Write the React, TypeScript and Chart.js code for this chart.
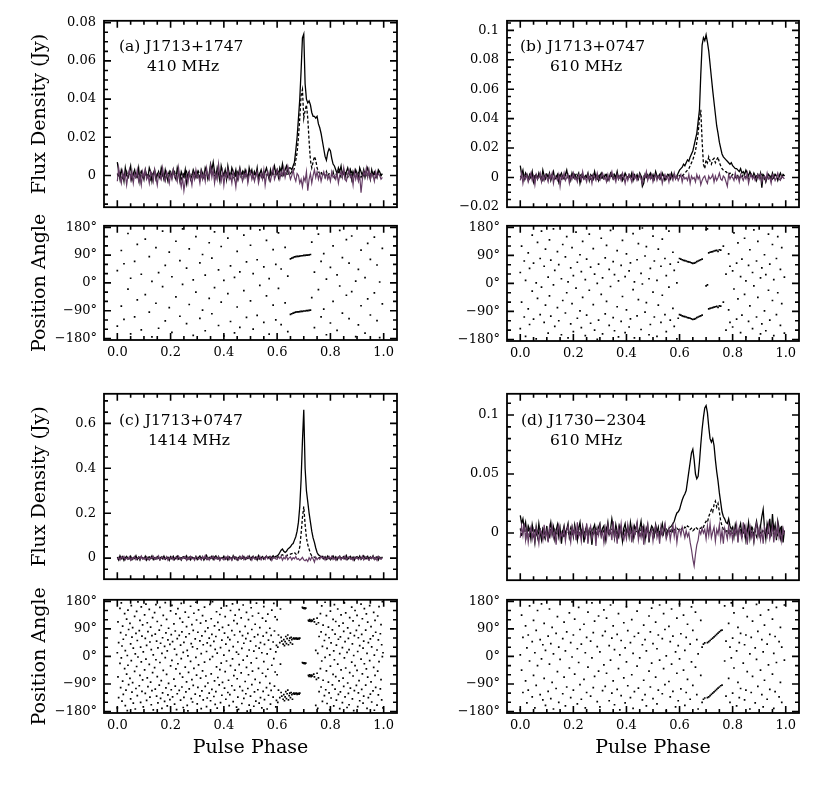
import { useEffect, useRef } from 'react';
import Chart from 'chart.js/auto';

const n = null;
type Bin = number | null;

// Profiles in mJy, 200 bins across the pulse period (phase 0 .. 0.995)
const aTotal = [
  7, 2, -2, 3, 1, -3, 4, 0, -1, 2, 5, -2, 1, 3, -1, 0, 4, -3, 2, 1,
  -2, 3, 0, -1, 4, 2, -3, 1, 3, -2, 0, 2, -1, 4, 1, -2, 3, 0, -3, 1,
  2, -1, 3, 0, -2, 4, 1, -3, 2, 0, -1, 3, -4, 1, 2, -2, 0, 3, 1, -1,
  2, 0, -2, 3, 1, -1, 4, 2, -2, 1, 6, 3, 7, 2, -1, 4, 1, -3, 5, 2,
  0, 3, -2, 5, 1, -1, 4, 2, 0, 3, -2, 1, 4, 0, 2, -1, 3, 1, -2, 4,
  1, 3, -1, 2, 0, 4, -2, 1, 3, 0, -1, 2, 4, 1, -2, 3, 0, 2, 5, 1,
  3, -1, 4, 2, 6, 1, 3, 5, 2, 4, 4, 3, 5, 7, 13, 20, 30, 40, 55, 72,
  74, 48, 40, 38, 39, 37, 33, 31, 31, 30, 31, 27, 25, 22, 18, 14, 10, 8, 12, 14,
  13, 9, 6, 5, 3, 1, 4, 2, 5, 0, 3, -1, 2, 4, 1, 3, -2, 2, 0, 3,
  1, -2, 4, 2, 0, 3, -1, 2, 4, 1, -2, 3, 0, 2, 1, -1, 3, 2, 0, 1,
];
const aLinear = [
  1, -1, 2, 0, -2, 1, 0, 2, -1, 1, 0, -2, 1, 2, 0, -1, 1, 0, 2, -1,
  0, 2, -1, 1, 0, -2, 1, 0, 2, -1, 1, 0, -1, 2, 0, 1, -2, 1, 0, 2,
  -1, 0, 1, 2, -1, 0, 2, 1, -2, 0, 1, -1, 2, 0, 1, -1, 0, 2, 1, 0,
  -1, 2, 0, 1, -2, 1, 0, 2, -1, 0, 3, 1, 2, 0, -1, 1, 2, 0, -1, 1,
  0, 2, 1, -1, 0, 2, 1, 0, -2, 1, 2, 0, 1, -1, 0, 2, 1, -1, 0, 1,
  2, 0, -1, 1, 0, 2, -1, 1, 0, -2, 1, 2, 0, 1, -1, 0, 2, 1, 0, 1,
  0, 2, 1, -1, 1, 0, 2, 1, 0, 2, 1, 2, 2, 4, 8, 12, 20, 30, 42, 45,
  30, 34, 37, 30, 18, 8, 4, 7, 10, 8, 4, 2, 1, 2, 0, 1, -1, 2, 0, 1,
  1, 0, 2, -1, 1, 0, 2, 1, -1, 0, 1, 2, 0, -1, 1, 0, 2, 1, 0, -1,
  1, 2, 0, -1, 1, 0, 2, 1, -1, 0, 1, 2, 0, 1, -1, 0, 2, 1, 0, 1,
];
const aCircular = [
  -3, 4, -1, -4, 2, -2, 1, -5, 0, 3, -2, 2, -4, 1, -1, 3, -3, 0, -5, 2,
  -1, 3, -2, 0, -4, 2, 1, -3, 3, -1, -5, 1, 0, -2, 4, -1, -3, 2, 0, -4,
  1, -2, 3, -1, 0, -3, 4, -2, -6, -1, -8, -3, 0, -4, 2, -1, -5, 1, -2, 3,
  -1, 0, -4, 2, -2, 1, -3, 4, 0, -2, 5, -1, 3, -4, 1, -2, 6, 0, -3, 2,
  -5, 1, -1, 3, -2, 0, -4, 2, -1, -6, 1, -2, 3, 0, -3, 1, -1, 2, -4, 0,
  2, -2, 1, -3, 0, 2, -4, -1, 1, -2, 3, -5, 0, 2, -1, -3, 1, 4, -2, 0,
  3, 1, -2, 2, 0, 4, -1, 2, 5, 1, -2, 0, 3, -1, -3, 1, 0, -4, -2, -6,
  -1, -3, 2, -8, -2, 1, -4, 0, 3, -1, 2, -2, 1, -3, 0, 2, -1, 1, -2, 0,
  -3, 2, -1, 0, -2, 1, -4, 0, 2, -1, 4, -2, -3, 1, 3, -1, 0, -5, 2, -2,
  1, -3, 0, -9, -2, 2, 0, 4, -1, 3, -2, 1, 0, -3, 2, -1, 1, 0, -2, -1,
];
// Position angles in degrees, one per bin (null = no measurement)
const aAngle: Bin[] = [
  40, n, n, -75, n, 62, n, n, -20, n, 15, n, n, 70, n, -55, n, n, 28, n,
  n, -38, n, n, 85, n, 5, n, n, -66, n, 33, n, n, -12, n, 57, n, n, -80,
  n, 20, n, n, -45, n, n, 72, n, -5, n, n, 48, n, -70, n, n, 10, n, -30,
  n, n, 65, n, -88, n, 25, n, n, -50, n, 80, n, -15, n, n, 42, n, -62, n,
  8, n, n, -35, n, 55, n, n, 18, n, -78, n, 36, n, n, -25, n, 68, n, n,
  -58, n, 30, n, n, 75, n, -8, n, n, 52, n, -42, n, 14, n, n, -72, n, 60,
  n, -18, n, 45, n, n, -65, n, 22, n, 78, 80, 82, 84, 85, 86, 86, 87, 88, 88,
  89, 89, 90, 90, 91, 92, -48, n, 35, n, n, -22, n, 70, n, -85, n, 12, n, n,
  50, n, -60, n, n, 26, n, -10, n, 82, n, n, -40, n, 64, n, -28, n, n, 6,
  n, 44, n, -74, n, n, 17, n, -52, n, 76, n, n, -32, n, 58, n, 3, n, -68,
];

const bTotal = [
  8, 2, 5, -1, 3, 1, -2, 2, 0, 4, -3, 1, 2, -1, 3, 0, -2, 5, 1, -1,
  2, 0, 3, -2, 1, 4, -1, 0, 2, -3, 1, 3, 0, -1, 2, 5, 0, 1, -2, 3,
  0, 2, -1, 1, 3, -4, 0, 2, -1, 1, 0, 3, -2, 2, 1, -1, 4, 0, 2, -2,
  1, 3, 0, -1, 2, 1, -2, 0, 3, 1, -1, 2, 0, 4, -1, 1, 2, -2, 0, 3,
  1, -1, 2, 0, 3, -2, 1, 0, 2, -1, 3, 1, -6, -4, 2, 0, 1, 1, 3, 0,
  2, -1, 4, 1, 0, 2, -1, 3, 1, -2, 0, 2, 1, -1, 3, 0, 2, -1, 1, 3,
  5, 6, 7, 9, 8, 10, 12, 11, 14, 16, 18, 22, 26, 30, 38, 46, 70, 90, 95, 93,
  97, 92, 86, 77, 68, 59, 51, 43, 35, 30, 24, 20, 16, 14, 13, 12, 11, 10, 9, 10,
  8, 7, 6, 6, 5, 4, 6, 3, 4, 2, 5, 3, 1, 4, 2, 0, 3, 1, -2, 2,
  0, 3, -7, 2, 1, -3, 0, 2, 1, -1, 3, 0, 2, 1, -2, 1, 3, 0, 2, 1,
];
const bLinear = [
  1, 0, 2, -1, 1, 2, 0, -1, 1, 0, 2, 1, -1, 0, 2, 1, 0, -2, 1, 0,
  2, -1, 0, 1, 2, 0, -1, 1, 0, 2, 1, -1, 0, 1, 2, 0, 1, -1, 0, 2,
  0, 1, 2, -1, 0, 1, 2, 0, -1, 1, 2, 0, 1, -1, 0, 2, 1, 0, -1, 1,
  2, 0, -1, 1, 0, 2, 1, -1, 0, 1, 2, 0, -1, 1, 2, 0, 1, 0, -1, 2,
  1, 0, 2, -1, 1, 0, 2, 1, 0, -1, 1, 2, -2, -1, 0, 1, 2, 0, 1, 0,
  -1, 1, 2, 0, 1, -1, 0, 2, 1, 0, -1, 1, 2, 0, 1, 0, 2, 1, 0, 2,
  1, 2, 1, 2, 3, 4, 5, 6, 8, 10, 12, 15, 18, 24, 30, 40, 46, 25, 9, 6,
  12, 10, 14, 11, 9, 12, 13, 10, 12, 14, 10, 8, 6, 5, 4, 4, 3, 2, 3, 1,
  2, 1, 0, 2, 1, -1, 1, 0, 2, 1, 0, 1, -1, 0, 2, 1, 0, -1, 1, 0,
  1, 0, 2, 1, -1, 0, 1, 2, 0, 1, -1, 0, 2, 1, 0, 1, -1, 0, 2, 1,
];
const bCircular = [
  -2, 3, -4, 1, -1, 2, -3, 0, 3, -2, 1, -5, 2, -1, 0, 3, -3, 1, -2, 2,
  0, -3, 2, -1, 3, -4, 1, 0, -2, 2, -6, 1, -1, 3, -2, 0, 2, -4, 1, -1,
  3, -1, 0, -3, 2, 1, -2, 4, -1, 0, -3, 2, -1, 1, -4, 2, 0, -2, 3, -1,
  -2, 1, 3, -1, 0, -3, 2, -2, 1, 4, -1, 0, -3, 2, -1, 1, -2, 3, 0, -4,
  1, -2, 2, 0, -3, 3, -1, 1, -2, 0, 2, -1, -4, 1, 0, 4, -2, 1, -1, 2,
  -3, 0, 2, -2, 1, -1, 3, -4, 0, 2, -1, 1, -3, 2, 0, -2, 3, -1, 1, -2,
  0, 2, -3, 1, -1, 0, -2, 2, -4, 1, -1, 0, -3, 2, -1, 1, -5, -2, 0, 1,
  -2, -4, 1, -1, 0, 2, -3, 1, -2, 0, 3, -1, -2, 1, 0, -3, -6, 2, -1, 1,
  0, -2, 3, -1, 1, -3, 2, 0, -2, 1, -1, 3, -4, 0, 2, -1, 1, -2, 0, 2,
  -1, 2, -3, 0, 1, -2, 3, -1, 0, -4, 2, 1, -2, 0, 3, -1, -2, 1, 0, -1,
];
const bAngle: Bin[] = [
  35, -60, n, 72, 10, n, -82, 48, n, -25, 65, n, 2, -48, n, 80, -12, n, 55, -70,
  n, 20, -40, 75, n, -5, 42, n, -78, 60, n, 15, -55, n, 85, -30, 5, n, 50, -65,
  25, n, -15, 68, n, -88, 38, -45, n, 12, 78, n, -22, 52, n, -68, 30, n, 0, 62,
  n, -35, 18, n, 82, -58, n, 45, -10, n, 70, 28, n, -75, 8, n, 58, -42, n, 22,
  -85, n, 40, 66, n, -20, 5, n, 76, -52, n, 32, -2, n, 88, -62, n, 15, 48, n,
  -28, 72, n, 10, -70, n, 55, -38, n, 80, 25, n, -12, 62, n, -80, 42, n, 2, 68,
  80, 78, 76, 74, 73, 72, 70, 69, 68, 66, 64, 65, 67, 70, 72, 74, 76, 78, n, n,
  -8, -5, -82, -80, -79, -78, -76, -75, -74, -77, -72, -73, n, -60, n, 30, n, -85, 55, n,
  40, -18, n, 65, -50, n, 22, 78, n, -35, 8, n, 58, -72, n, 35, -8, n, 72, -45,
  n, 18, 50, n, -88, 28, n, -22, 62, n, -55, 12, n, 80, -30, n, 45, -65, n, 20,
];

const cTotal = [
  5, -8, 10, -3, 6, -10, 2, 8, -5, 0, 9, -7, 3, -2, 11, -6, 4, -9, 7, -1,
  -4, 8, -9, 3, 6, -2, 10, -7, 1, -5, 7, 2, -8, 5, -3, 9, -6, 0, 4, -10,
  6, -3, 8, -7, 2, 9, -5, 1, -9, 4, 7, -2, 10, -6, 3, -8, 5, 0, -4, 8,
  -7, 2, 9, -4, 6, -9, 1, 12, -5, 3, -2, 8, -6, 4, 10, -3, 7, -8, 2, -1,
  9, -5, 3, -8, 6, 1, -7, 10, -3, 5, -9, 2, 8, -4, 0, 7, -6, 3, -2, 9,
  -6, 4, 8, -2, 5, -8, 11, -4, 2, 7, -5, 3, 9, -1, 6, -7, 4, 10, 2, 8,
  10, 15, 25, 35, 40, 30, 25, 30, 40, 45, 50, 60, 65, 80, 95, 120, 160, 230, 350, 520,
  660, 400, 300, 250, 200, 160, 120, 90, 70, 45, 25, 15, 10, 5, 8, -3, 6, -5, 9, 2,
  -7, 4, 10, -2, 6, -8, 3, 9, -5, 1, 7, -4, 11, -6, 2, 8, -3, 5, -9, 4,
  7, -2, 9, -6, 3, 10, -4, 1, 8, -7, 5, -1, 10, -5, 2, 6, -8, 4, -3, 6,
];
const cLinear = [
  3, -4, 2, 0, -2, 4, -1, 1, 3, -3, 0, 2, -4, 1, 3, -1, 0, 4, -2, 1,
  -1, 2, 4, -3, 0, 1, -2, 3, -4, 2, 1, -1, 0, 3, -2, 4, -3, 1, 2, 0,
  2, -2, 0, 3, -1, 1, 4, -3, 2, 0, -1, 3, -2, 1, 4, -4, 0, 2, -1, 3,
  0, 3, -2, 1, 4, -1, 2, -3, 0, 3, 1, -2, 4, 0, -1, 2, -3, 3, 1, -2,
  4, -1, 1, 3, -3, 2, 0, -2, 3, 1, -4, 2, 0, 3, -1, 1, 4, -2, 0, 2,
  -2, 1, 3, 0, 2, -3, 4, -1, 1, 2, -2, 3, 0, -1, 4, 2, -3, 1, 3, 0,
  3, 5, 8, 12, 15, 10, 8, 10, 14, 16, 18, 20, 22, 25, 18, 15, 25, 50, 110, 180,
  230, 150, 90, 60, 40, 20, 10, 6, 4, 2, 3, -1, 2, 4, 0, -2, 3, 1, -3, 2,
  1, -3, 2, 4, -1, 0, 3, -2, 1, 2, -4, 3, 0, -1, 2, 4, -2, 1, 3, -3,
  2, 0, -2, 3, 1, -1, 4, -3, 0, 2, 1, -2, 3, 0, -4, 2, 1, -1, 3, 0,
];
const cCircular = [
  -6, 3, -9, 5, -2, 8, -7, 1, -4, 6, -10, 2, -3, 7, -8, 0, 4, -6, 9, -5,
  2, -7, 6, -3, -9, 4, -1, 8, -6, 3, -4, 10, -8, 1, 5, -5, -2, 7, -9, 3,
  -3, 6, -8, 2, 5, -6, 9, -2, -7, 4, -1, 7, -9, 3, -5, 8, -4, 1, -10, 6,
  4, -5, 1, -8, 7, -3, 12, -6, 2, -9, 5, -1, 8, -7, 3, -4, 6, -11, 1, -2,
  -8, 5, -3, 9, -6, 2, -10, 4, 7, -5, 1, -8, 6, -2, 10, -7, 3, -4, 8, -1,
  3, -9, 7, -1, -6, 5, -3, 8, -8, 2, 4, -6, 9, -3, -1, 7, -10, 2, 5, -4,
  -5, 6, -2, 8, -9, 3, -4, 10, -7, 1, 5, -8, 2, -3, 7, -6, -2, -10, -4, 3,
  -8, -12, -6, -15, 2, -9, 5, -3, -18, 4, -7, 1, -5, 8, -2, 6, -9, 3, -4, 7,
  -3, 8, -6, 2, -9, 5, -1, 7, -8, 3, -4, 10, -7, 1, 6, -5, 2, -10, 4, -2,
  5, -7, 2, -4, 9, -8, 1, 6, -3, -9, 4, -2, 7, -6, 3, -10, 8, -1, -5, 2,
];
// Panel (c) position angles have 400 bins
const cAngle: Bin[] = [
  12, -67, 45, n, -23, 78, -5, 34, -81, 56, n, -40, 19, 70, -58, 3, -29, 88, n, -72,
  41, -14, 63, -86, 27, n, -49, 8, 75, -33, 52, -2, n, 84, -62, 30, -18, 66, -77, 15,
  n, -44, 59, -9, 36, -70, 81, n, -26, 47, -84, 22, 68, -53, 5, n, -37, 73, -11, 50,
  -66, 28, n, 86, -20, 43, -79, 10, 61, -46, n, 33, -4, 77, -59, 18, 54, -88, n, 39,
  -31, 71, -13, 48, n, -74, 24, 83, -41, 6, 58, -24, n, 69, -56, 37, -7, 80, -68, 13,
  46, n, -35, 64, -83, 20, 2, -52, 74, n, -16, 42, -76, 31, 85, -39, n, 57, -3, -61,
  25, 79, -28, n, 51, -71, 9, 67, -47, 38, n, -19, 82, -64, 16, 44, -87, n, 60, -10,
  35, -57, 72, -1, n, 49, -80, 23, 65, -34, 11, -69, n, 87, -43, 29, -22, 53, -85, n,
  4, 76, -50, 40, -15, n, 62, -78, 19, 55, -30, n, 84, -8, 32, -63, 70, -45, n, 14,
  -73, 47, 7, -27, 81, n, -54, 26, 68, -12, 43, n, -82, 58, -36, 1, 75, -60, 21, n,
  50, -21, 88, -48, n, 17, 64, -75, 34, -6, n, 71, -39, 27, -86, 45, n, 12, -55, 66,
  -17, 39, n, -65, 78, 8, -42, 53, n, -88, 24, 69, -29, n, 47, -7, 83, -51, 15, 36,
  -60, 30, 70, n, 45, -25, 62, 50, n, 40, 55, 35, 48, 65, 42, 58, 70, 38, 52, 60,
  45, 62, 55, 40, 58, 60, 57, 59, 58, 60, 56, 58, 59, 57, 60, n, n, n, -20, -22,
  -23, -21, -24, -22, n, n, n, -62, -65, -60, -63, -66, -61, -64, n, -58, -67, n, 20, -75,
  -55, 10, -70, 65, n, -40, 80, -15, 33, -78, n, 52, -3, 71, -47, 26, n, -84, 61, 5,
  -32, 44, n, 87, -59, 18, -11, 73, -66, 37, n, -25, 56, -80, 9, 64, -44, n, 29, -71,
  82, -5, 48, -38, n, 13, -87, 59, 22, -53, 76, n, -19, 41, -64, 3, 68, -30, n, 85,
  -46, 16, 61, -79, 35, n, -9, 72, -57, 27, 50, -24, n, 86, -41, 10, -68, 45, n, -14,
  57, -83, 31, n, 67, -36, 4, -62, 79, n, 21, -48, 54, -17, n, 74, -76, 38, -1, 12,
];

const dTotal = [
  15, 8, 12, 4, 9, -2, 6, 3, -5, 7, 1, -8, 5, -3, 8, 0, -6, 4, 2, -4,
  6, -7, 3, 9, -1, 5, -5, 2, 7, -3, 4, -9, 1, 6, -2, 3, 8, -4, 0, 5,
  -3, 7, 1, -6, 4, 9, -2, 5, -8, 2, 6, -5, 3, 0, -10, 4, 7, -3, 1, 5,
  8, -2, 4, 6, -6, 2, 9, -1, 3, 12, 5, -4, 7, 1, -3, 6, 2, -7, 4, 8,
  0, 5, -3, 9, 2, -5, 6, 3, 8, -2, 4, 10, -1, 5, -6, 3, 7, -8, 2, 6,
  4, -2, 7, 1, 5, -4, 3, 8, 0, 6, -3, 2, 4, 5, 6, 8, 10, 14, 17, 18,
  20, 24, 28, 31, 33, 36, 44, 52, 60, 68, 71, 62, 50, 46, 48, 60, 75, 88, 98, 106,
  108, 102, 90, 80, 77, 80, 74, 62, 52, 44, 34, 26, 18, 14, 12, 9, 8, 12, 6, 3,
  5, -3, 7, 2, -5, 4, 8, -2, 3, 6, -6, 1, 9, -4, 5, 2, -7, 4, 10, 3,
  -2, 6, 14, 20, 4, -5, 8, 3, 12, -3, 16, 2, 7, -6, 10, 4, -4, 6, -8, 2,
];
const dLinear = [
  4, -3, 2, 5, -1, 0, 3, -4, 1, 2, -2, 4, 0, -3, 1, 3, -1, 2, -4, 0,
  2, 0, -3, 4, 1, -2, 3, 0, -1, 5, -3, 1, 2, -4, 0, 3, 1, -2, 4, -1,
  0, 3, -2, 1, 4, -3, 2, 0, -1, 3, 1, -4, 2, 0, 3, -2, 1, 4, -1, 0,
  3, -1, 0, 2, -3, 4, 1, -2, 0, 3, 2, -1, 4, -3, 1, 0, 2, -4, 3, 1,
  -2, 1, 3, 0, -1, 4, -3, 2, 1, 0, -2, 3, 1, -4, 2, 0, 3, -1, 1, 4,
  0, -2, 3, 1, -1, 2, 4, -3, 0, 1, 3, -1, 2, 0, 4, 1, 3, 2, 4, 3,
  2, 3, 4, 3, 5, 4, 6, 5, 3, 4, 2, 3, 5, 4, 3, 4, 4, 6, 5, 8,
  10, 9, 14, 17, 20, 18, 24, 27, 22, 25, 18, 10, 6, 3, 2, 1, 3, 0, 2, 1,
  -1, 2, 0, 3, -2, 1, 4, -3, 0, 2, -1, 3, 1, -2, 0, 4, -1, 2, -3, 1,
  2, 0, -1, 3, 1, -2, 4, 0, -3, 2, 1, -1, 3, 0, -2, 1, 4, -1, 0, 2,
];
const dCircular = [
  -4, 6, -2, 8, -6, 3, -8, 1, 5, -5, 2, -7, 4, -1, -9, 3, 0, -6, 7, -3,
  2, -8, 5, -2, 6, -4, 1, -10, 3, 7, -5, 0, -3, 4, -7, 2, 6, -1, -8, 5,
  -2, 4, -6, 9, -3, 1, -7, 5, -1, -4, 8, -9, 2, 6, -5, 0, 3, -11, 4, -2,
  6, -3, 1, -8, 4, -5, 7, -1, 3, -6, 10, -4, 2, -9, 5, -2, 8, -3, -6, 1,
  -5, 7, -1, 3, -8, 5, -3, 2, 9, -6, 1, -4, 6, -10, 4, -2, 7, -5, 0, 3,
  -7, 2, 6, -4, 1, -9, 5, -2, 3, 8, -5, -1, 4, -6, 2, 7, -3, 5, -8, 1,
  3, -2, 5, 1, -4, 2, -3, 0, -8, -14, -22, -28, -18, -10, -6, 2, -1, 4, 0, 3,
  -5, 6, -2, 8, -4, 1, 5, -7, 3, -1, 7, -6, 2, -9, 4, 0, -5, 6, -3, 2,
  -6, 3, -1, 7, -8, 4, 0, -5, 9, -2, 5, -10, 2, 6, -4, 1, -7, 3, 8, -3,
  4, -6, 2, -9, 5, 1, -3, 7, -5, 0, 6, -8, 3, -2, 8, -4, 1, -7, 4, -1,
];
const dAngle: Bin[] = [
  5, -45, 62, n, -80, 28, 70, -15, n, 48, -62, 12, 85, -30, n, 55, -8, 38, -72, 20,
  n, 66, -25, 42, -85, 8, n, 75, -50, 30, -10, n, 58, -68, 18, 80, n, -38, 45, -2,
  70, -58, n, 25, -20, 88, 40, n, -75, 12, 62, -35, n, 50, -5, 78, -65, n, 32, -48,
  15, n, 68, -28, 82, -55, n, 35, -12, 60, -80, 22, n, 72, -40, 5, 52, n, -70, 28,
  -18, 84, n, 45, -60, 10, 65, n, -32, 76, -5, n, 38, -78, 55, 18, n, -48, 80, -22,
  42, n, -68, 25, 70, -12, n, 58, -40, 88, 2, n, -82, 48, -25, 66, n, 15, -55, 35,
  -8, 74, n, -45, 20, 62, -75, n, 40, -18, 85, n, -35, 55, 8, n, -62, 30, 40, 44,
  n, 45, 48, 52, 56, 60, 64, 68, 72, 76, 80, 84, 86, n, -15, 50, n, -72, 30, -5,
  60, -38, n, 18, -85, 45, 75, n, -22, 38, 70, -50, n, 8, 62, -65, n, 28, -10, 82,
  n, -45, 55, 15, -78, n, 40, -28, 72, n, -58, 10, 65, -20, n, 48, -85, 30, n, -12,
];

const PURPLE = '#643c64';
const FONT = "'DejaVu Serif', serif";

Chart.defaults.font.family = FONT;
Chart.defaults.font.size = 13;
Chart.defaults.color = '#000';

const toFlux = (mJy: number[]) => mJy.map((v, i) => ({ x: i / mJy.length, y: v / 1000 }));

// every angle is shown twice, 180 degrees apart
const toAngle = (pa: Bin[]) => {
  const pts: { x: number; y: number }[] = [];
  pa.forEach((v, i) => {
    if (v === null) return;
    const x = i / pa.length;
    pts.push({ x, y: v });
    pts.push({ x, y: v >= 0 ? v - 180 : v + 180 });
  });
  return pts;
};

const fluxLabel = (v: number | string) => String(Number(Number(v).toFixed(4))).replace('-', '\u2212');
const phaseLabel = (v: number | string) => Number(v).toFixed(1);
const angleLabel = (v: number | string) => String(v).replace('-', '\u2212') + '\u00b0';

interface Note { text: string; dx: number; dy: number }
interface FrameOpts { xMinor: number; xMajor: number; yMinor: number; yMajor: number; notes?: Note[] }

const framePlugin = {
  id: 'frame',
  afterDatasetsDraw(chart: Chart, _args: unknown, opts: FrameOpts) {
    const { ctx, chartArea } = chart;
    const { left, right, top, bottom } = chartArea;
    const xs = chart.scales.x;
    const ys = chart.scales.y;
    const marks = (min: number, max: number, minor: number, major: number, fn: (v: number, len: number) => void) => {
      for (let k = Math.ceil(min / minor - 1e-6); k * minor <= max + 1e-9; k++) {
        const v = k * minor;
        const r = v / major;
        fn(v, Math.abs(r - Math.round(r)) < 1e-6 ? 7 : 4);
      }
    };
    ctx.save();
    ctx.strokeStyle = '#000';
    ctx.lineWidth = 1.6;
    ctx.beginPath();
    marks(xs.min, xs.max, opts.xMinor, opts.xMajor, (v, len) => {
      const px = xs.getPixelForValue(v);
      if (px <= left + 1 || px >= right - 1) return;
      ctx.moveTo(px, bottom);
      ctx.lineTo(px, bottom - len);
      ctx.moveTo(px, top);
      ctx.lineTo(px, top + len);
    });
    marks(ys.min, ys.max, opts.yMinor, opts.yMajor, (v, len) => {
      const py = ys.getPixelForValue(v);
      if (py <= top + 1 || py >= bottom - 1) return;
      ctx.moveTo(left, py);
      ctx.lineTo(left + len, py);
      ctx.moveTo(right, py);
      ctx.lineTo(right - len, py);
    });
    ctx.stroke();
    ctx.lineWidth = 1.8;
    ctx.strokeRect(left, top, right - left, bottom - top);
    ctx.fillStyle = '#000';
    ctx.font = `15.5px ${FONT}`;
    ctx.textBaseline = 'middle';
    (opts.notes || []).forEach((note) => ctx.fillText(note.text, left + note.dx, top + note.dy));
    ctx.restore();
  },
};

interface Spec {
  key: string;
  x: number;
  y: number;
  w: number;
  h: number;
  config: any;
}

const X_MIN = -0.05;
const X_MAX = 1.05;
const TITLE_FONT = { size: 19 };

function fluxSpec(key: string, boxL: number, boxR: number, boxT: number, boxB: number, axisW: number,
  total: number[], linear: number[], circular: number[], yMin: number, yMax: number,
  yMajor: number, yMinor: number, notes: Note[], withTitle: boolean): Spec {
  return {
    key,
    x: boxL - axisW,
    y: boxT - 12,
    w: boxR - boxL + axisW + 4,
    h: boxB - boxT + 24,
    config: {
      type: 'line',
      data: {
        datasets: [
          { data: toFlux(circular), borderColor: PURPLE, borderWidth: 1.2 },
          { data: toFlux(total), borderColor: '#000', borderWidth: 1.3 },
          { data: toFlux(linear), borderColor: '#000', borderWidth: 1.3, borderDash: [3, 2] },
        ],
      },
      options: {
        animation: false,
        responsive: false,
        layout: { padding: { top: 12, bottom: 12, left: 0, right: 4 } },
        elements: { point: { radius: 0 }, line: { tension: 0 } },
        plugins: {
          legend: { display: false },
          tooltip: { enabled: false },
          frame: { xMinor: 0.05, xMajor: 0.2, yMinor, yMajor, notes },
        },
        scales: {
          x: { type: 'linear', min: X_MIN, max: X_MAX, display: false },
          y: {
            type: 'linear',
            min: yMin,
            max: yMax,
            afterFit: (s: any) => { s.width = axisW; },
            grid: { display: false, drawTicks: false },
            border: { display: false },
            ticks: { stepSize: yMajor, includeBounds: false, padding: 8, callback: fluxLabel },
            title: {
              display: withTitle,
              text: 'Flux Density (Jy)',
              font: TITLE_FONT,
              padding: { top: 29, bottom: 0 },
            },
          },
        },
      },
      plugins: [framePlugin],
    },
  };
}

function angleSpec(key: string, boxL: number, boxR: number, boxT: number, boxB: number, axisW: number,
  angles: Bin[], axisH: number, withYTitle: boolean, withXTitle: boolean): Spec {
  return {
    key,
    x: boxL - axisW,
    y: boxT - 12,
    w: boxR - boxL + axisW + 4,
    h: boxB - boxT + 12 + axisH,
    config: {
      type: 'scatter',
      data: {
        datasets: [
          { data: toAngle(angles), pointStyle: 'rect', pointRadius: 1.2, backgroundColor: '#000', borderWidth: 0 },
        ],
      },
      options: {
        animation: false,
        responsive: false,
        layout: { padding: { top: 12, bottom: 0, left: 0, right: 4 } },
        plugins: {
          legend: { display: false },
          tooltip: { enabled: false },
          frame: { xMinor: 0.05, xMajor: 0.2, yMinor: 30, yMajor: 90 },
        },
        scales: {
          x: {
            type: 'linear',
            min: X_MIN,
            max: X_MAX,
            afterFit: (s: any) => { s.height = axisH; },
            grid: { display: false, drawTicks: false },
            border: { display: false },
            ticks: { stepSize: 0.2, includeBounds: false, padding: 5, callback: phaseLabel, maxRotation: 0 },
            title: {
              display: withXTitle,
              text: 'Pulse Phase',
              font: TITLE_FONT,
              padding: { top: 0, bottom: 14 },
            },
          },
          y: {
            type: 'linear',
            min: -185,
            max: 185,
            afterFit: (s: any) => { s.width = axisW; },
            grid: { display: false, drawTicks: false },
            border: { display: false },
            ticks: { stepSize: 90, includeBounds: false, padding: 7, callback: angleLabel },
            title: {
              display: withYTitle,
              text: 'Position Angle',
              font: TITLE_FONT,
              padding: { top: 29, bottom: 0 },
            },
          },
        },
      },
      plugins: [framePlugin],
    },
  };
}

const specs: Spec[] = [
  fluxSpec('a-flux', 104, 397, 17, 211, 104, aTotal, aLinear, aCircular, -0.0166, 0.081, 0.02, 0.005,
    [{ text: '(a) J1713+1747', dx: 15, dy: 26 }, { text: '410 MHz', dx: 43, dy: 46 }], true),
  angleSpec('a-pa', 104, 397, 223, 340, 104, aAngle, 28, true, false),
  fluxSpec('b-flux', 507, 799, 17, 211, 60, bTotal, bLinear, bCircular, -0.0202, 0.1065, 0.02, 0.005,
    [{ text: '(b) J1713+0747', dx: 13, dy: 26 }, { text: '610 MHz', dx: 43, dy: 46 }], false),
  angleSpec('b-pa', 507, 799, 223, 341, 60, bAngle, 28, false, false),
  fluxSpec('c-flux', 104, 397, 390, 583, 104, cTotal, cLinear, cCircular, -0.094, 0.7316, 0.2, 0.05,
    [{ text: '(c) J1713+0747', dx: 15, dy: 27 }, { text: '1414 MHz', dx: 44, dy: 47 }], true),
  angleSpec('c-pa', 104, 397, 597, 713, 104, cAngle, 60, true, true),
  fluxSpec('d-flux', 507, 799, 390, 584, 60, dTotal, dLinear, dCircular, -0.04, 0.118, 0.05, 0.01,
    [{ text: '(d) J1730\u22122304', dx: 14, dy: 27 }, { text: '610 MHz', dx: 43, dy: 47 }], false),
  angleSpec('d-pa', 507, 799, 597, 713, 60, dAngle, 60, false, true),
];

function Plot({ spec }: { spec: Spec }) {
  const canvasRef = useRef<HTMLCanvasElement | null>(null);

  useEffect(() => {
    if (!canvasRef.current) return;
    const chart = new Chart(canvasRef.current, spec.config);
    return () => {
      chart.destroy();
    };
  }, [spec]);

  return (
    <canvas
      ref={canvasRef}
      width={spec.w}
      height={spec.h}
      style={{ position: 'absolute', left: spec.x, top: spec.y, width: spec.w, height: spec.h }}
    />
  );
}

export default function App() {
  return (
    <div style={{ position: 'absolute', left: 0, top: 0, width: 830, height: 796, background: '#fff' }}>
      {specs.map((s) => (
        <Plot key={s.key} spec={s} />
      ))}
    </div>
  );
}
